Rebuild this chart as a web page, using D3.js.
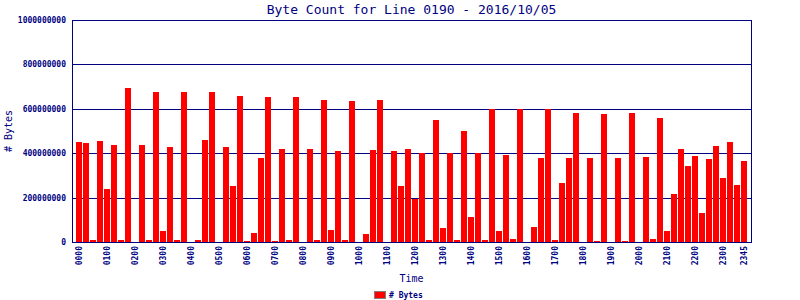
<!DOCTYPE html>
<html>
<head>
<meta charset="utf-8">
<script src="https://cdn.jsdelivr.net/npm/d3@7"></script>
<style>
  body { margin: 0; background: #fff; }
  svg { display: block; }
  text { font-family: "DejaVu Sans Mono", "Liberation Mono", monospace; fill: #000080; }
</style>
</head>
<body>
<svg id="chart" width="800" height="300"></svg>
<script>
const times = [
  "0000","0015","0030","0045","0100","0115","0130","0145","0200","0215","0230","0245",
  "0300","0315","0330","0345","0400","0415","0430","0445","0500","0515","0530","0545",
  "0600","0615","0630","0645","0700","0715","0730","0745","0800","0815","0830","0845",
  "0900","0915","0930","0945","1000","1015","1030","1045","1100","1115","1130","1145",
  "1200","1215","1230","1245","1300","1315","1330","1345","1400","1415","1430","1445",
  "1500","1515","1530","1545","1600","1615","1630","1645","1700","1715","1730","1745",
  "1800","1815","1830","1845","1900","1915","1930","1945","2000","2015","2030","2045",
  "2100","2115","2130","2145","2200","2215","2230","2245","2300","2315","2330","2345"
];

const bytes = [
  450000000, 446000000, 10000000, 455000000, 239000000, 437000000, 10000000, 694000000,
  0, 437000000, 10000000, 676000000, 50000000, 428000000, 10000000, 676000000,
  0, 10000000, 460000000, 676000000, 0, 428000000, 252000000, 658000000,
  5000000, 40000000, 378000000, 653000000, 5000000, 419000000, 10000000, 653000000,
  0, 419000000, 10000000, 640000000, 54000000, 410000000, 10000000, 635000000,
  0, 36000000, 414000000, 640000000, 0, 410000000, 252000000, 419000000,
  195000000, 400000000, 10000000, 550000000, 63000000, 400000000, 10000000, 500000000,
  113000000, 400000000, 10000000, 598000000, 50000000, 392000000, 14000000, 598000000,
  0, 68000000, 378000000, 598000000, 10000000, 266000000, 378000000, 581000000,
  0, 378000000, 5000000, 577000000, 0, 378000000, 5000000, 581000000,
  0, 383000000, 14000000, 559000000, 50000000, 216000000, 419000000, 342000000,
  387000000, 131000000, 374000000, 432000000, 288000000, 450000000, 257000000, 365000000
];

const xTickLabels = [
  "0000","0100","0200","0300","0400","0500","0600","0700","0800","0900","1000","1100",
  "1200","1300","1400","1500","1600","1700","1800","1900","2000","2100","2200","2300","2345"
];

const yTicks = [0, 200000000, 400000000, 600000000, 800000000, 1000000000];

const navy = "#000080";
const plotLeft = 72, plotRight = 751, plotTop = 20, plotBottom = 242;

const svg = d3.select("#chart");

const x = d3.scaleBand()
  .domain(times)
  .range([plotLeft, plotRight])
  .paddingInner(1 / 7)
  .paddingOuter(4 / 7);

const y = d3.scaleLinear()
  .domain([0, 1000000000])
  .range([plotBottom, plotTop]);

// grid lines
svg.append("g")
  .selectAll("line")
  .data(yTicks)
  .join("line")
  .attr("x1", plotLeft)
  .attr("x2", plotRight)
  .attr("y1", d => Math.round(y(d)) + 0.5)
  .attr("y2", d => Math.round(y(d)) + 0.5)
  .attr("stroke", navy)
  .attr("shape-rendering", "crispEdges");

// bars
svg.append("g")
  .selectAll("rect")
  .data(bytes)
  .join("rect")
  .attr("x", (d, i) => Math.round(x(times[i])))
  .attr("y", d => Math.round(y(d)))
  .attr("width", Math.round(x.bandwidth()))
  .attr("height", d => Math.round(plotBottom - y(d)))
  .attr("fill", "#ff0000")
  .attr("shape-rendering", "crispEdges");

// frame
svg.append("rect")
  .attr("x", plotLeft + 0.5)
  .attr("y", plotTop + 0.5)
  .attr("width", plotRight - plotLeft)
  .attr("height", plotBottom - plotTop)
  .attr("fill", "none")
  .attr("stroke", navy)
  .attr("shape-rendering", "crispEdges");

// y axis
const yAxis = svg.append("g")
  .attr("transform", `translate(${plotLeft},0)`)
  .call(d3.axisLeft(y).tickValues(yTicks).tickSize(0).tickPadding(6).tickFormat(d3.format("d")));
yAxis.select(".domain").remove();
yAxis.selectAll("text")
  .style("font-size", "8px")
  .style("font-weight", "bold")
  .attr("fill", navy);

// x axis
const xAxis = svg.append("g")
  .attr("transform", `translate(0,${plotBottom})`)
  .call(d3.axisBottom(x).tickValues(xTickLabels).tickSize(0).tickFormat(d => d));
xAxis.select(".domain").remove();
xAxis.selectAll("text")
  .style("font-size", "8px")
  .style("font-weight", "bold")
  .attr("fill", navy)
  .attr("text-anchor", "end")
  .attr("transform", "rotate(-90)")
  .attr("x", -4)
  .attr("y", 0)
  .attr("dy", "0.32em");

// titles
svg.append("text")
  .attr("x", (plotLeft + plotRight) / 2)
  .attr("y", 14)
  .attr("text-anchor", "middle")
  .style("font-size", "13px")
  .text("Byte Count for Line 0190 - 2016/10/05");

svg.append("text")
  .attr("x", (plotLeft + plotRight) / 2)
  .attr("y", 282)
  .attr("text-anchor", "middle")
  .style("font-size", "10px")
  .text("Time");

svg.append("text")
  .attr("transform", `translate(12,${(plotTop + plotBottom) / 2}) rotate(-90)`)
  .attr("text-anchor", "middle")
  .style("font-size", "10px")
  .text("# Bytes");

// legend
svg.append("rect")
  .attr("x", 374.5)
  .attr("y", 291.5)
  .attr("width", 11)
  .attr("height", 7)
  .attr("fill", "#ff0000")
  .attr("stroke", "#808080")
  .attr("shape-rendering", "crispEdges");

svg.append("text")
  .attr("x", 389)
  .attr("y", 298)
  .style("font-size", "8px")
  .style("font-weight", "bold")
  .text("# Bytes");
</script>
</body>
</html>
